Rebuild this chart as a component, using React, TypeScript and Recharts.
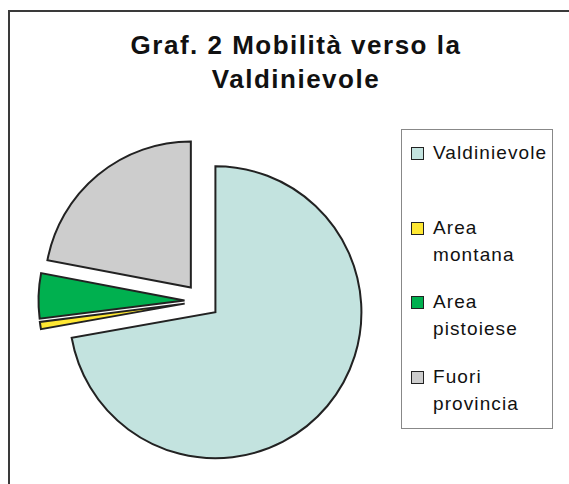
import { PieChart, Pie, Cell, Sector, Legend } from "recharts";

const categories = ["Valdinievole", "Area montana", "Area pistoiese", "Fuori provincia"];
const shares = [72.2, 0.8, 5.0, 22.0];
const colors = ["#C3E3DF", "#FFE833", "#00B04F", "#CDCDCD"];
const titleLines = ["Graf. 2 Mobilità verso la", "Valdinievole"];

const data = categories.map((name, i) => ({ name, value: shares[i] }));

const RAD = Math.PI / 180;
const EXPLODE = 17.5;
const FONT = '"Liberation Sans", Arial, sans-serif';

// every slice pushed out along its mid angle, like the Excel "exploded" pie
function ExplodedSector(props: any) {
  const { cx, cy, midAngle } = props;
  const dx = EXPLODE * Math.cos(-midAngle * RAD);
  const dy = EXPLODE * Math.sin(-midAngle * RAD);
  return <Sector {...props} cx={cx + dx} cy={cy + dy} />;
}

function LegendBox() {
  return (
    <div style={{ position: "relative", width: 150, height: 298, fontFamily: FONT }}>
      {categories.map((name, i) => (
        <div key={name} style={{ position: "absolute", left: 9, top: 9 + i * 74.7 }}>
          <div
            style={{
              position: "absolute",
              left: 0,
              top: 8,
              width: 11,
              height: 11,
              background: colors[i],
              border: "1.5px solid #222",
            }}
          />
          <div style={{ position: "absolute", left: 22, top: 0, fontSize: 19, lineHeight: "27px", letterSpacing: 1.1, color: "#111", whiteSpace: "nowrap" }}>
            {name.split(" ").map((w) => (
              <div key={w}>{w}</div>
            ))}
          </div>
        </div>
      ))}
    </div>
  );
}

export default function App() {
  return (
    <div style={{ position: "fixed", left: 0, top: 0, width: 569, height: 484, overflow: "hidden", background: "#fff" }}>
      <div
        style={{
          position: "absolute",
          left: 8,
          top: 10,
          width: 620,
          height: 520,
          borderLeft: "2px solid #3a3a3a",
          borderTop: "2px solid #3a3a3a",
        }}
      />
      <div
        style={{
          position: "absolute",
          left: 96,
          top: 28,
          width: 400,
          textAlign: "center",
          fontFamily: FONT,
          fontWeight: "bold",
          fontSize: 26,
          lineHeight: "34px",
          letterSpacing: 1.5,
          color: "#111",
        }}
      >
        {titleLines.map((t) => (
          <div key={t}>{t}</div>
        ))}
      </div>
      <div style={{ position: "absolute", left: 0, top: 0 }}>
        <PieChart width={569} height={484} margin={{ top: 0, right: 0, bottom: 0, left: 0 }}>
          <Pie
            data={data}
            dataKey="value"
            nameKey="name"
            cx={202}
            cy={301}
            outerRadius={146}
            startAngle={90}
            endAngle={-270}
            stroke="#222"
            strokeWidth={2}
            shape={ExplodedSector}
            isAnimationActive={false}
          >
            {data.map((d, i) => (
              <Cell key={d.name} fill={colors[i]} />
            ))}
          </Pie>
          <Legend
            layout="vertical"
            align="right"
            verticalAlign="middle"
            content={<LegendBox />}
            wrapperStyle={{ left: 401, top: 129, width: 150, height: 298, border: "1px solid #888", right: "auto", bottom: "auto" }}
          />
        </PieChart>
      </div>
    </div>
  );
}
